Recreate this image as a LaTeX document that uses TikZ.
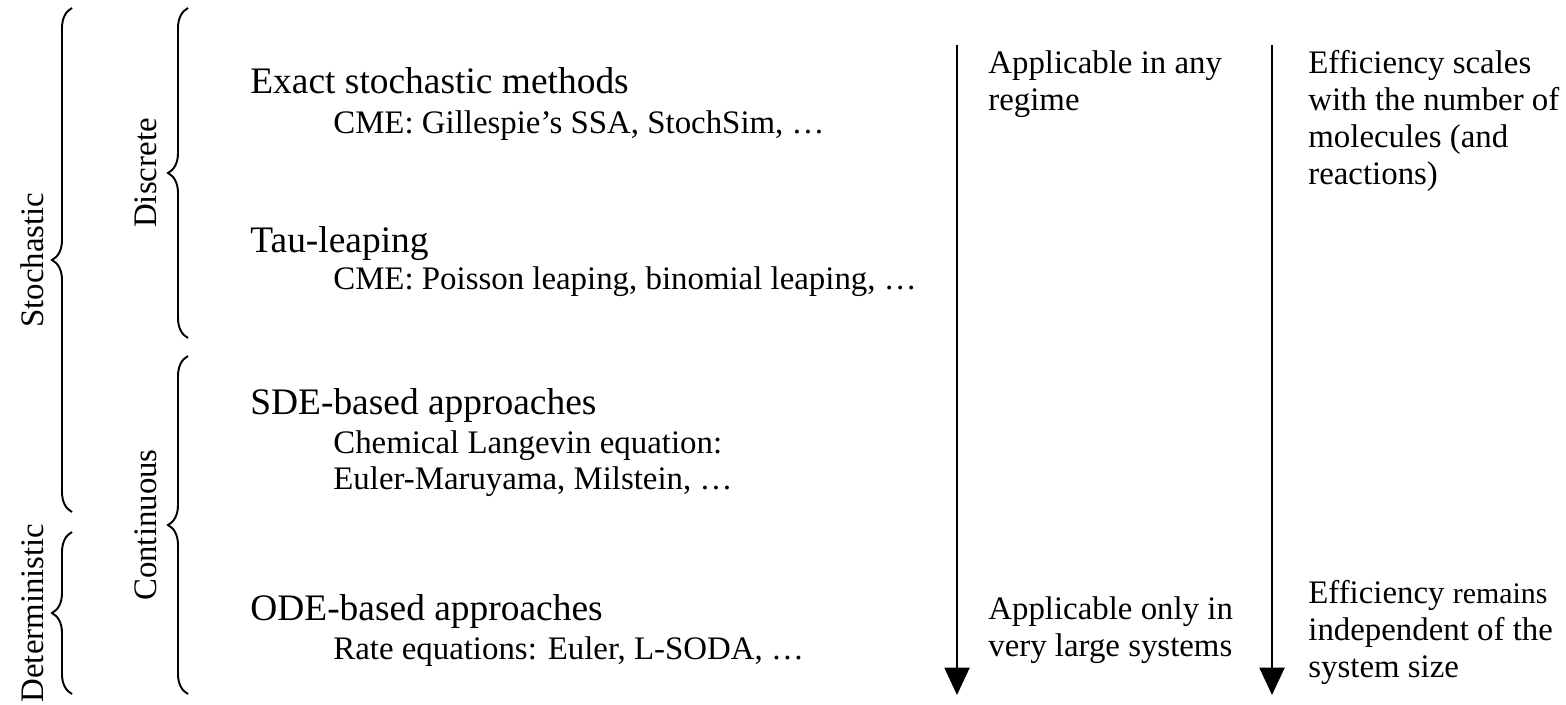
\documentclass[tikz,border=0pt]{standalone}
\usepackage{fontspec}
\setmainfont{Liberation Serif}
\usetikzlibrary{decorations.pathreplacing,arrows.meta}
\begin{document}
\begin{tikzpicture}[
    brace/.style={decorate, decoration={brace, amplitude=0.4cm}, line width=1.1pt},
    sidelabel/.style={rotate=90, anchor=base, inner sep=0pt, font=\fontsize{18.7}{21}\selectfont},
    method/.style={anchor=base west, inner sep=0pt, font=\fontsize{21.3}{25}\selectfont},
    detail/.style={anchor=base west, inner sep=0pt, font=\fontsize{18.7}{21}\selectfont},
    remark/.style={anchor=base west, inner sep=0pt, align=left, font=\fontsize{18.7}{21}\selectfont},
    trend/.style={line width=1.5pt, -{Triangle[length=0.55cm, width=0.5cm]}}
]
    \useasboundingbox (0,0) rectangle (31.32,-14.08);

    % Outer braces: stochastic / deterministic
    \draw[brace] (1.44,-10.24) -- (1.44,-0.16);
    \node[sidelabel] (stoch) at (0.86,-5.2) {Stochastic};
    \draw[brace] (1.44,-13.88) -- (1.44,-10.64);
    \node[sidelabel] (determ) at (0.86,-12.26) {Deterministic};

    % Inner braces: discrete / continuous
    \draw[brace] (3.76,-6.76) -- (3.76,-0.16);
    \node[sidelabel] (discrete) at (3.12,-3.46) {Discrete};
    \draw[brace] (3.76,-13.88) -- (3.76,-7.12);
    \node[sidelabel] (contin) at (3.12,-10.5) {Continuous};

    % Simulation methods
    \node[method] (exact) at (5.0,-1.86) {Exact stochastic methods};
    \node[detail] (exactcme) at (6.66,-2.66) {CME: Gillespie’s SSA, StochSim, …};

    \node[method] (tau) at (5.0,-5.04) {Tau-leaping};
    \node[detail] (taucme) at (6.66,-5.78) {CME: Poisson leaping, binomial leaping, …};

    \node[method] (sde) at (5.0,-8.28) {SDE-based approaches};
    \node[detail] (sdecle) at (6.66,-9.06) {Chemical Langevin equation:};
    \node[detail] (sdeeuler) at (6.66,-9.78) {Euler-Maruyama, Milstein, …};

    \node[method] (ode) at (5.0,-12.4) {ODE-based approaches};
    \node[detail] (oderate) at (6.66,-13.18) {Rate equations: Euler, L-SODA, …};

    % Trend arrows
    \coordinate (applytop) at (19.14,-0.9);
    \coordinate (applyend) at (19.14,-13.9);
    \draw[trend] (applytop) -- (applyend);
    \coordinate (efftop) at (25.44,-0.9);
    \coordinate (effend) at (25.44,-13.9);
    \draw[trend] (efftop) -- (effend);

    % Remarks next to the arrows (base = last line)
    \node[remark] (applyany) at (19.76,-2.2) {Applicable in any\\regime};
    \node[remark] (effscales) at (26.16,-3.68) {Efficiency scales\\with the number of\\molecules (and\\reactions)};
    \node[remark] (applylarge) at (19.76,-13.12) {Applicable only in\\very large systems};
    \node[remark] (effindep) at (26.16,-13.54) {Efficiency {\fontsize{17}{21}\selectfont remains}\\independent of the\\system size};
\end{tikzpicture}
\end{document}
